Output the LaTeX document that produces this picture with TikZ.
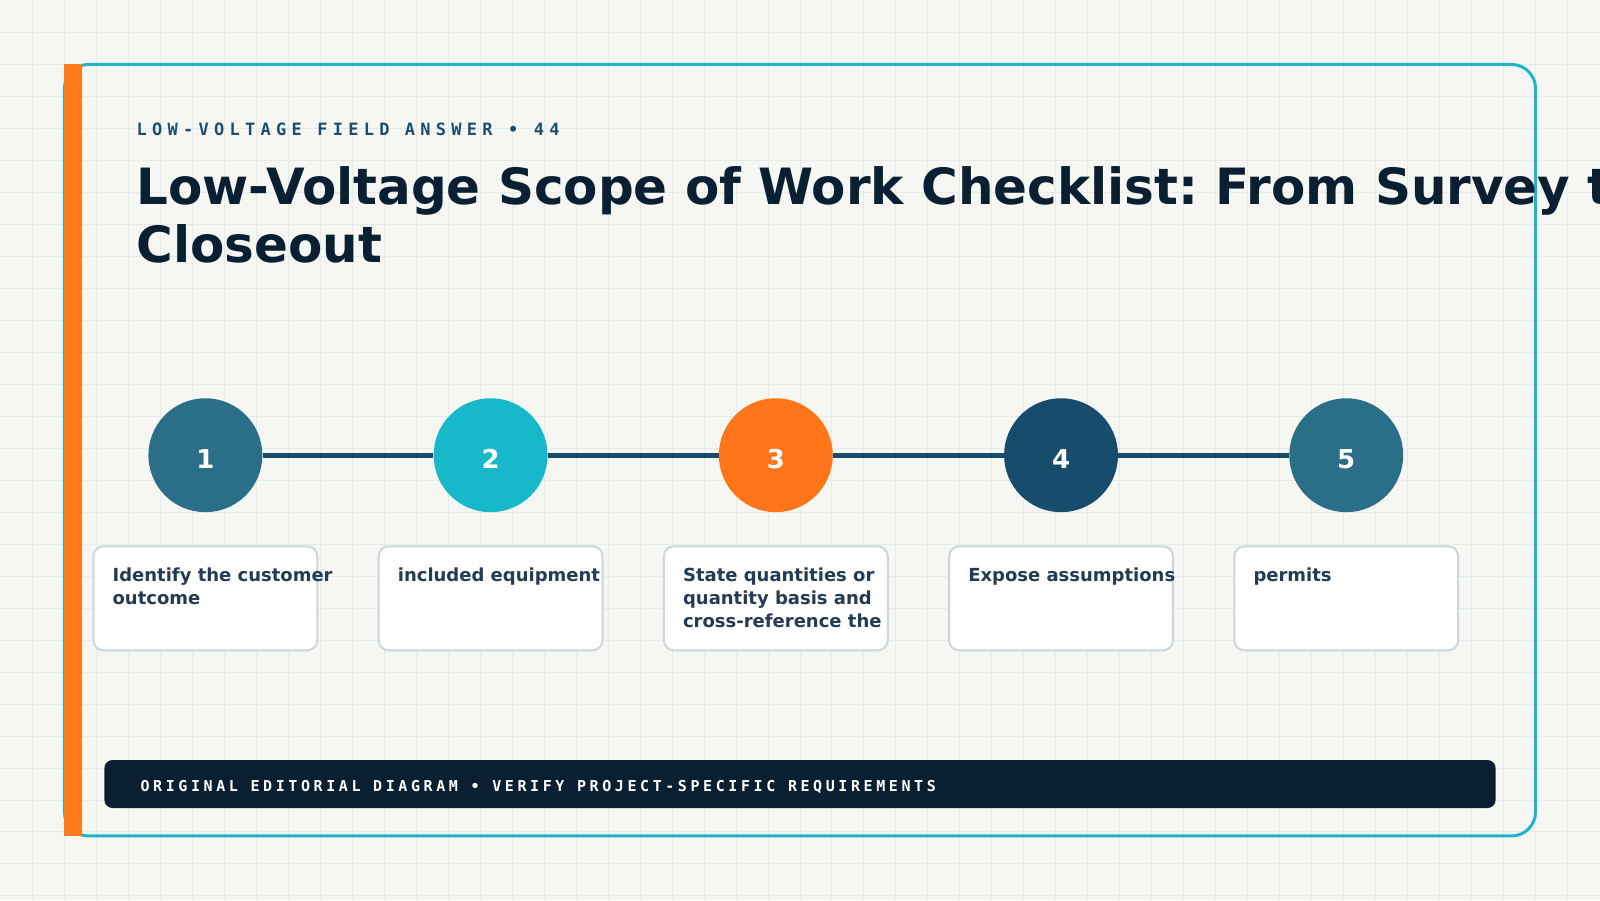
\documentclass[tikz,border=0pt]{standalone}
\usepackage{fontspec}
\setmainfont{DejaVu Sans}
\newfontfamily\kickerfont[LetterSpace=31]{DejaVu Sans Mono}
\newfontfamily\stripfont[LetterSpace=24]{DejaVu Sans Mono}
\usetikzlibrary{positioning}
\frenchspacing

\definecolor{paper}{HTML}{F6F7F3}
\definecolor{gridc}{HTML}{E5EBE8}
\definecolor{framec}{HTML}{1DB5C8}
\definecolor{barc}{HTML}{FF7A1A}
\definecolor{navy}{HTML}{0B1F33}
\definecolor{steel}{HTML}{2B6E87}
\definecolor{aqua}{HTML}{16B8CA}
\definecolor{ember}{HTML}{FF761A}
\definecolor{deep}{HTML}{174C6C}
\definecolor{cardedge}{HTML}{CAD7DD}
\definecolor{cardtext}{HTML}{243B53}
\definecolor{kicker}{HTML}{1F4E6B}

\begin{document}
\begin{tikzpicture}[x=1pt,y=-1pt,node distance=171pt,
  stage/.style={circle,minimum size=114pt,inner sep=0pt,text=white,
    text height=26pt,font=\fontsize{26}{30}\selectfont\bfseries},
  card/.style={draw=cardedge,line width=2pt,fill=white,rounded corners=10pt,
    minimum width=224pt,minimum height=104pt,inner sep=0pt},
  card text/.style={anchor=north west,inner sep=0pt,align=left,text=cardtext,
    font=\fontsize{18}{23.4}\selectfont\bfseries}]

  % paper and grid
  \fill[paper] (0,0) rectangle (1600,900);
  \foreach \x in {32,64,...,1568} \draw[gridc,line width=1pt] (\x,0) -- (\x,900);
  \foreach \y in {32,64,...,896} \draw[gridc,line width=1pt] (0,\y) -- (1600,\y);
  \useasboundingbox (0,0) rectangle (1600,900);

  % frame
  \draw[framec,line width=3pt,rounded corners=24pt] (64,64) rectangle (1536,836);
  \fill[barc] (64,64) rectangle (82,836);

  \node[anchor=base west,inner sep=0pt,text=kicker,font=\kickerfont\fontsize{17}{20}\selectfont\bfseries]
    (kicker) at (136,135) {LOW-VOLTAGE FIELD ANSWER • 44};
  \node[anchor=north west,inner sep=0pt,align=left,text=navy,font=\fontsize{50}{58}\selectfont\bfseries]
    (title) at (136,166) {Low-Voltage Scope of Work Checklist: From Survey to\\Closeout};

  \node[stage,fill=steel] (s1) at (205,455) {1};
  \node[stage,fill=aqua] (s2) [right=of s1] {2};
  \node[stage,fill=ember] (s3) [right=of s2] {3};
  \node[stage,fill=deep] (s4) [right=of s3] {4};
  \node[stage,fill=steel] (s5) [right=of s4] {5};

  \path[draw=deep,line width=5pt]
    (s1) edge (s2)
    (s2) edge (s3)
    (s3) edge (s4)
    (s4) edge (s5);

  \node[card] (b1) [below=33pt of s1] {};
  \node[card] (b2) [below=33pt of s2] {};
  \node[card] (b3) [below=33pt of s3] {};
  \node[card] (b4) [below=33pt of s4] {};
  \node[card] (b5) [below=33pt of s5] {};

  \node[card text] (t1) at ([xshift=20pt,yshift=-22pt]b1.north west) {Identify the customer\\outcome};
  \node[card text] (t2) at ([xshift=20pt,yshift=-22pt]b2.north west) {included equipment};
  \node[card text] (t3) at ([xshift=20pt,yshift=-22pt]b3.north west) {State quantities or\\quantity basis and\\cross-reference the};
  \node[card text] (t4) at ([xshift=20pt,yshift=-22pt]b4.north west) {Expose assumptions};
  \node[card text] (t5) at ([xshift=20pt,yshift=-22pt]b5.north west) {permits};

  % footer strip
  \node[fill=navy,rounded corners=8pt,minimum width=1392pt,minimum height=48pt,inner sep=0pt]
    (strip) at (800,784) {};
  \node[anchor=base west,inner sep=0pt,text=white,font=\stripfont\fontsize{15}{18}\selectfont\bfseries]
    (note) at (140,791) {ORIGINAL EDITORIAL DIAGRAM • VERIFY PROJECT-SPECIFIC REQUIREMENTS};
\end{tikzpicture}
\end{document}
